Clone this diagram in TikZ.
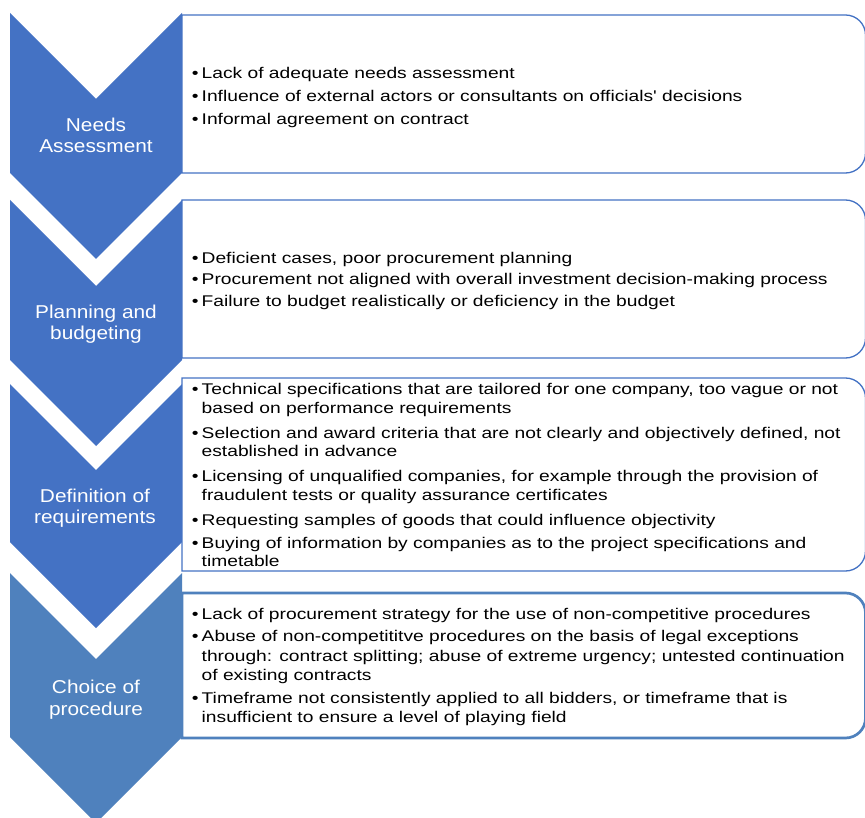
\documentclass[tikz,border=0pt]{standalone}
\usepackage{fontspec}
\setmainfont{Liberation Sans}
\newfontfamily\boxfont[FakeStretch=1.240]{Liberation Sans}
\newfontfamily\labfont[FakeStretch=1.12]{Liberation Sans}
\definecolor{cblue}{HTML}{4472C4}
\definecolor{cblueb}{HTML}{4F81BD}
\newcommand\bul{\makebox[9.8pt][l]{•}}
\begin{document}
\begin{tikzpicture}[x=1pt,y=1pt,
  chev/.style={fill=cblue,draw=none},
  chevb/.style={fill=cblueb,draw=none},
  boxline/.style={draw=cblue,line width=1.3pt,fill=white},
  boxlineb/.style={draw=cblueb,line width=2.7pt,fill=white},
  txt/.style={anchor=base west,inner sep=0pt,text=black,font=\boxfont\fontsize{15.5}{18}\selectfont},
  lab/.style={anchor=base,inner sep=0pt,text=white,font=\labfont\fontsize{18.6}{21}\selectfont}]
\useasboundingbox (0,0) rectangle (865,-818);
\fill[white] (0,0) rectangle (865,-818);
% chevrons
\path[chev] (10,-13) -- (96,-99) -- (182,-13) -- (182,-173) -- (96,-259) -- (10,-173) -- cycle;
\path[chev] (10,-200) -- (96,-286) -- (182,-200) -- (182,-360) -- (96,-446) -- (10,-360) -- cycle;
\path[chev] (10,-384) -- (96,-470) -- (182,-384) -- (182,-542) -- (96,-628) -- (10,-542) -- cycle;
\path[chevb] (10,-573) -- (96,-659) -- (182,-573) -- (182,-737) -- (96,-823) -- (10,-737) -- cycle;
% boxes
\path[boxline] (182,-15) -- (845.5,-15) arc[start angle=90,end angle=0,radius=20] -- (865.5,-153) arc[start angle=0,end angle=-90,radius=20] -- (182,-173) -- cycle;
\path[boxline] (182,-200) -- (845.5,-200) arc[start angle=90,end angle=0,radius=20] -- (865.5,-338) arc[start angle=0,end angle=-90,radius=20] -- (182,-358) -- cycle;
\path[boxline] (182,-378) -- (845.5,-378) arc[start angle=90,end angle=0,radius=20] -- (865.5,-551) arc[start angle=0,end angle=-90,radius=20] -- (182,-571) -- cycle;
\path[boxlineb] (182,-593) -- (845.5,-593) arc[start angle=90,end angle=0,radius=20] -- (865.5,-718) arc[start angle=0,end angle=-90,radius=20] -- (182,-738) -- cycle;
% labels
\node[lab] (l1a) at (96,-131.7) {Needs};
\node[lab] (l1b) at (96,-153) {Assessment};
\node[lab] (l2a) at (96,-318.3) {Planning and};
\node[lab] (l2b) at (96,-340) {budgeting};
\node[lab] (l3a) at (95,-502.5) {Definition of};
\node[lab] (l3b) at (95,-523.5) {requirements};
\node[lab] (l4a) at (96,-693.3) {Choice of};
\node[lab] (l4b) at (96,-715) {procedure};
% box 1
\node[txt] (a1) at (191.7,-79) {\bul Lack of adequate needs assessment};
\node[txt] (a2) at (191.7,-102) {\bul Influence of external actors or consultants on officials' decisions};
\node[txt] (a3) at (191.7,-125) {\bul Informal agreement on contract};
% box 2
\node[txt] (b1) at (191.7,-263.3) {\bul Deficient cases, poor procurement planning};
\node[txt] (b2) at (191.7,-285) {\bul Procurement not aligned with overall investment decision-making process};
\node[txt] (b3) at (191.7,-306.7) {\bul Failure to budget realistically or deficiency in the budget};
% box 3
\node[txt] (c1) at (191.7,-395) {\bul Technical specifications that are tailored for one company, too vague or not};
\node[txt] (c1b) at (201.5,-413.3) {based on performance requirements};
\node[txt] (c2) at (191.7,-438.3) {\bul Selection and award criteria that are not clearly and objectively defined, not};
\node[txt] (c2b) at (201.5,-456.7) {established in advance};
\node[txt] (c3) at (191.7,-481.7) {\bul Licensing of unqualified companies, for example through the provision of};
\node[txt] (c3b) at (201.5,-500) {fraudulent tests or quality assurance certificates};
\node[txt] (c4) at (191.7,-525) {\bul Requesting samples of goods that could influence objectivity};
\node[txt] (c5) at (191.7,-548.3) {\bul Buying of information by companies as to the project specifications and};
\node[txt] (c5b) at (201.5,-566.7) {timetable};
% box 4
\node[txt] (d1) at (191.7,-619) {\bul Lack of procurement strategy for the use of non-competitive procedures};
\node[txt] (d2) at (191.7,-641.7) {\bul Abuse of non-competititve procedures on the basis of legal exceptions};
\node[txt] (d2b) at (201.5,-661.7) {through: contract splitting; abuse of extreme urgency; untested continuation};
\node[txt] (d2c) at (201.5,-680) {of existing contracts};
\node[txt] (d3) at (191.7,-703) {\bul Timeframe not consistently applied to all bidders, or timeframe that is};
\node[txt] (d3b) at (201.5,-722.7) {insufficient to ensure a level of playing field};
\end{tikzpicture}
\end{document}
